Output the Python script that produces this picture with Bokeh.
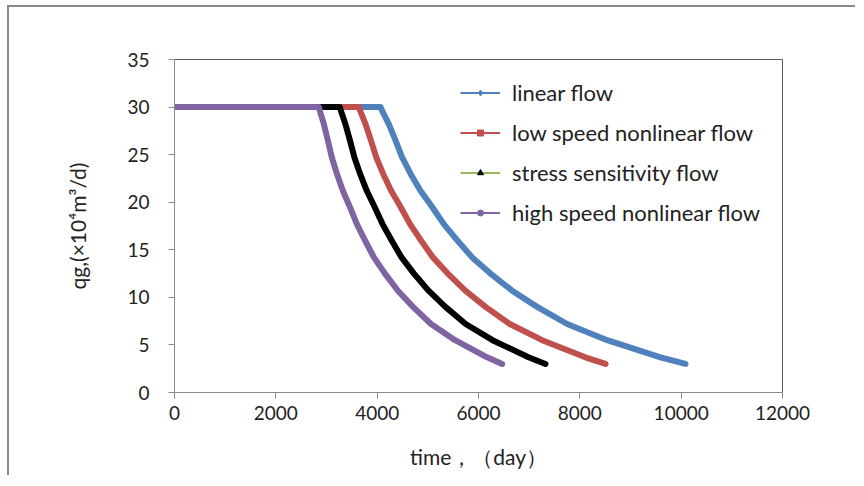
from bokeh.plotting import figure
from bokeh.models import Range1d, Legend, LegendItem, FixedTicker, LinearAxis
from bokeh.embed import file_html
from bokeh.resources import INLINE

# ---- data ----
x_ticks = [0, 2000, 4000, 6000, 8000, 10000, 12000]
y_ticks = [0, 5, 10, 15, 20, 25, 30, 35]

series_names = ["linear flow", "low speed nonlinear flow",
                "stress sensitivity flow", "high speed nonlinear flow"]

linear_t = [0, 4066, 4099, 4230, 4362, 4493, 4658, 4855, 5086, 5316, 5579,
            5875, 6237, 6664, 7158, 7750, 8540, 9592, 10086]
linear_q = [30, 30, 29.6, 28.2, 26.5, 24.7, 23.0, 21.2, 19.5, 17.7, 16.0,
            14.2, 12.5, 10.7, 9.0, 7.2, 5.5, 3.7, 3.0]

lowspeed_t = [0, 3638, 3665, 3771, 3877, 3983, 4117, 4276, 4463, 4649, 4862,
              5101, 5394, 5740, 6139, 6618, 7257, 8109, 8507]
lowspeed_q = [30, 30, 29.6, 28.2, 26.5, 24.7, 23.0, 21.2, 19.5, 17.7, 16.0,
              14.2, 12.5, 10.7, 9.0, 7.2, 5.5, 3.7, 3.0]

stress_t = [0, 3263, 3285, 3374, 3463, 3551, 3662, 3795, 3950, 4106, 4283,
            4482, 4726, 5014, 5347, 5746, 6278, 6988, 7322]
stress_q = [30, 30, 29.6, 28.2, 26.5, 24.7, 23.0, 21.2, 19.5, 17.7, 16.0,
            14.2, 12.5, 10.7, 9.0, 7.2, 5.5, 3.7, 3.0]

highspeed_t = [0, 2849, 2869, 2948, 3027, 3106, 3205, 3323, 3462, 3600, 3758,
               3936, 4154, 4410, 4707, 5063, 5538, 6170, 6467]
highspeed_q = [30, 30, 29.6, 28.2, 26.5, 24.7, 23.0, 21.2, 19.5, 17.7, 16.0,
               14.2, 12.5, 10.7, 9.0, 7.2, 5.5, 3.7, 3.0]

y_title = "qg,(×10⁴m³/d)"
x_title = "time，（day）"

# ---- styling ----
line_colors = ["#4F81BD", "#C0504D", "#000000", "#8064A2"]
legend_line_colors = ["#4F81BD", "#C0504D", "#9BBB59", "#8064A2"]
marker_colors = ["#4F81BD", "#C0504D", "#000000", "#8064A2"]
markers = ["diamond", "square", "triangle", "circle"]
FONT = "Lato"
TXT = "#222222"

p = figure(width=848, height=470, output_backend="svg", toolbar_location=None,
           x_range=Range1d(0, 12000), y_range=Range1d(0, 35),
           min_border_left=165, min_border_right=75,
           min_border_top=52, min_border_bottom=85)
p.styles = {"border-top": "2px solid #8a8a8a", "border-left": "2px solid #8a8a8a",
            "margin-left": "7px", "margin-top": "5px"}

p.xgrid.visible = False
p.ygrid.visible = False
p.outline_line_color = "#5a5a5a"
p.outline_line_width = 1

p.xaxis.ticker = FixedTicker(ticks=x_ticks)
p.yaxis.ticker = FixedTicker(ticks=y_ticks)
for ax in (p.xaxis[0], p.yaxis[0]):
    ax.axis_line_color = "#8a8a8a"
    ax.major_tick_line_color = "#8a8a8a"
    ax.major_tick_in = 0
    ax.major_tick_out = 6
    ax.minor_tick_line_color = None
    ax.major_label_text_font = FONT
    ax.major_label_text_font_size = "19px"
    ax.major_label_text_color = TXT
p.yaxis.major_label_standoff = 19
p.xaxis.major_label_standoff = 7

p.xaxis.axis_label = x_title
p.xaxis.axis_label_text_font = FONT
p.xaxis.axis_label_text_font_size = "21px"
p.xaxis.axis_label_text_font_style = "normal"
p.xaxis.axis_label_text_color = TXT
p.xaxis.axis_label_standoff = 21

# y title on an extra, otherwise invisible, left axis whose bounds move the
# title's centre up a little, as in the reference
ytitle_axis = LinearAxis(bounds=(3.9, 35), ticker=FixedTicker(ticks=[]),
                         axis_line_color=None, major_tick_line_color=None,
                         minor_tick_line_color=None,
                         major_label_text_font_size="0px",
                         axis_label=y_title, axis_label_text_font=FONT,
                         axis_label_text_font_size="21px",
                         axis_label_text_font_style="normal",
                         axis_label_text_color=TXT, axis_label_standoff=35)
p.add_layout(ytitle_axis, "left")

all_t = [linear_t, lowspeed_t, stress_t, highspeed_t]
all_q = [linear_q, lowspeed_q, stress_q, highspeed_q]
for t, q, c in zip(all_t, all_q, line_colors):
    p.line(t, q, line_color=c, line_width=6, line_join="round", line_cap="round")

items = []
for name, lc, mc, m in zip(series_names, legend_line_colors, marker_colors, markers):
    r1 = p.line([-9000], [-90], line_color=lc, line_width=2)
    r2 = p.scatter([-9000], [-90], marker=m, fill_color=mc, line_color=mc)
    items.append(LegendItem(label=name, renderers=[r1, r2]))

legend = Legend(items=items, location=(286, 166), glyph_width=40,
                glyph_height=15, label_height=27, spacing=13,
                label_standoff=12, padding=0, margin=0,
                border_line_alpha=0, background_fill_alpha=0,
                label_text_font=FONT, label_text_font_size="22px",
                label_text_color=TXT)
p.add_layout(legend)

open("out.html", "w").write(file_html(p, INLINE))
